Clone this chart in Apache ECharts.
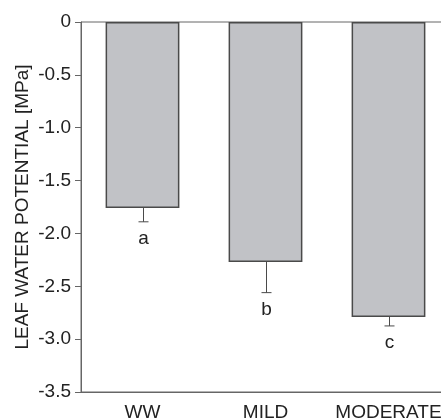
<!DOCTYPE html>
<html>
<head>
<meta charset="utf-8">
<script src="https://cdn.jsdelivr.net/npm/echarts@6/dist/echarts.min.js"></script>
<style>
  html, body { margin: 0; padding: 0; background: #fff; }
  #chart { width: 441px; height: 418px; }
</style>
</head>
<body>
<div id="chart"></div>
<script>
// treatments and leaf water potential (MPa)
var categories = ['WW', 'MILD', 'MODERATE'];
var means = [-1.76, -2.27, -2.79];
var errors = [0.13, 0.29, 0.085];
var letters = ['a', 'b', 'c'];

var chart = echarts.init(document.getElementById('chart'));

var errData = [];
for (var i = 0; i < categories.length; i++) {
  errData.push([i, means[i], means[i] - errors[i], letters[i]]);
}

var font = 'Liberation Sans, Arial, sans-serif';

var option = {
  animation: false,
  grid: {
    // plot runs past the right edge of the picture, like the original crop
    left: 81, width: 369, top: 22, height: 370,
    outerBoundsMode: 'none',
    containLabel: false,
    show: true, borderColor: '#666', borderWidth: 1,
    backgroundColor: 'transparent'
  },
  xAxis: {
    type: 'category',
    data: categories,
    position: 'bottom',
    axisLine: { onZero: false, lineStyle: { color: '#666', width: 1 } },
    axisTick: { inside: true, alignWithLabel: true, length: 5, lineStyle: { color: '#666' } },
    axisLabel: { color: '#222', fontSize: 19, fontFamily: font, margin: 11, interval: 0, hideOverlap: false },
    splitLine: { show: false }
  },
  yAxis: {
    type: 'value',
    min: -3.5, max: 0, interval: 0.5,
    name: 'LEAF WATER POTENTIAL [MPa]',
    nameLocation: 'middle',
    nameGap: 49,
    nameMoveOverlap: false,
    nameTextStyle: { color: '#222', fontSize: 19, fontFamily: font },
    axisLine: { show: true, lineStyle: { color: '#666', width: 1 } },
    axisTick: { show: true, length: 6, lineStyle: { color: '#666' } },
    axisLabel: {
      color: '#222', fontSize: 19, fontFamily: font, margin: 10,
      formatter: function (v) { return v === 0 ? '0' : v.toFixed(1); }
    },
    splitLine: { show: false }
  },
  series: [{
    type: 'bar',
    data: means,
    barWidth: '60%',
    itemStyle: { color: '#c1c2c6', borderColor: '#4a4a4a', borderWidth: 1.5 }
  }, {
    type: 'custom',
    data: errData,
    z: 3,
    renderItem: function (params, api) {
      var top = api.coord([api.value(0), api.value(1)]);
      var bot = api.coord([api.value(0), api.value(2)]);
      var x = Math.round(top[0]) + 0.5;
      var st = { stroke: '#4a4a4a', lineWidth: 1 };
      return {
        type: 'group',
        children: [
          { type: 'line', shape: { x1: x, y1: top[1], x2: x, y2: bot[1] }, style: st },
          { type: 'line', shape: { x1: x - 5, y1: bot[1], x2: x + 5, y2: bot[1] }, style: st },
          { type: 'text', style: {
              text: letters[params.dataIndex], x: x, y: bot[1] + 17,
              align: 'center', verticalAlign: 'middle',
              fill: '#222', fontSize: 19, fontFamily: font } }
        ]
      };
    }
  }]
};

chart.setOption(option);
</script>
</body>
</html>
